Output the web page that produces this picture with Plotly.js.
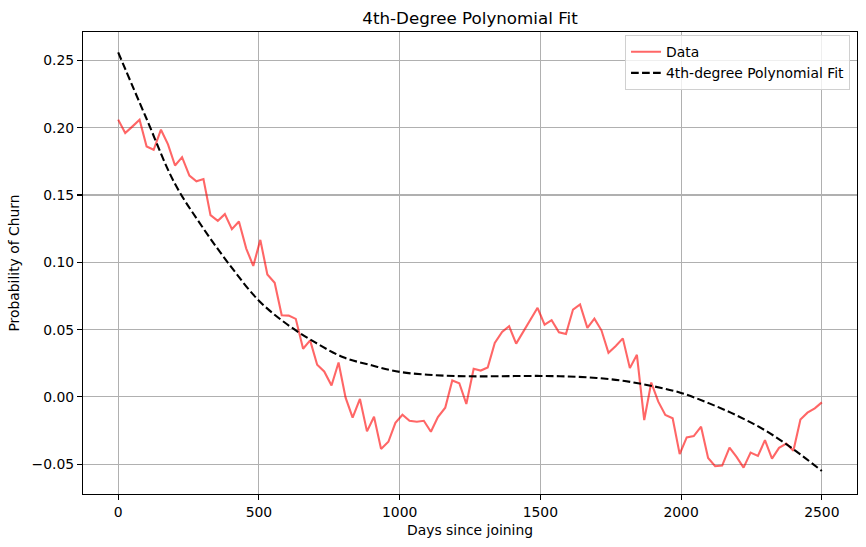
<!DOCTYPE html>
<html>
<head>
<meta charset="utf-8">
<script src="https://cdn.plot.ly/plotly-3.0.1.min.js"></script>
<style>
html,body{margin:0;padding:0;background:#fff;}
#chart{width:866px;height:547px;}
</style>
</head>
<body>
<div id="chart"></div>
<script>
// Days since joining (sample positions)
const days = [0,25,51,76,101,126,152,177,202,227,253,278,303,328,354,379,404,429,455,480,
505,530,556,581,606,631,657,682,707,732,758,783,808,833,859,884,909,934,960,985,
1010,1035,1061,1086,1111,1136,1162,1187,1212,1237,1263,1288,1313,1338,1364,1389,1414,1439,1465,1490,
1515,1540,1566,1591,1616,1641,1667,1692,1717,1742,1768,1793,1818,1843,1869,1894,1919,1944,1970,1995,
2020,2045,2071,2096,2121,2146,2172,2197,2222,2247,2273,2298,2323,2348,2374,2399,2424,2449,2475,2500];

// Observed churn probability
const churn = [0.206,0.196,0.201,0.206,0.186,0.1836,0.1985,0.1876,0.1719,0.1781,
0.1644,0.1602,0.1619,0.1351,0.1308,0.1358,0.1246,0.1303,0.1102,0.0973,
0.1167,0.091,0.0848,0.0607,0.0604,0.058,0.0358,0.042,0.0239,0.0189,
0.0085,0.0256,-0.0005,-0.0154,-0.0015,-0.0256,-0.0147,-0.0386,-0.0333,-0.0192,
-0.0132,-0.0177,-0.0184,-0.0177,-0.0259,-0.015,-0.008,0.0122,0.0102,-0.0052,
0.0209,0.0196,0.0219,0.0401,0.0483,0.0525,0.0396,0.0487,0.0575,0.0662,
0.0537,0.057,0.048,0.0468,0.0649,0.0687,0.0513,0.0582,0.0495,0.0328,
0.0378,0.0435,0.0214,0.0313,-0.0172,0.0107,-0.0035,-0.0134,-0.0159,-0.0425,
-0.0301,-0.0291,-0.0221,-0.0453,-0.0515,-0.051,-0.0376,-0.0445,-0.0525,-0.0413,
-0.0438,-0.0321,-0.0458,-0.0378,-0.0346,-0.04,-0.0167,-0.0117,-0.0085,-0.004];

// Fitted curve
const fitDays = [0,100,200,300,400,500,600,700,800,900,1000,1100,1200,1300,1400,1500,1600,1700,1800,1900,2000,2100,2200,2300,2400,2500];
const fitVals = [0.256,0.207,0.159,0.126,0.097,0.0715,0.054,0.0405,0.0295,0.0235,0.0186,0.0165,0.0155,0.0153,0.0155,0.0156,0.0152,0.0141,0.0118,0.008,0.003,-0.0048,-0.014,-0.025,-0.039,-0.055];

const xTicks = [0,500,1000,1500,2000,2500];
const yTicks = [-0.05,0,0.05,0.10,0.15,0.20,0.25];

const FONT = 'DejaVu Sans, sans-serif';

const traces = [
  {x: days, y: churn, type: 'scatter', mode: 'lines', name: 'Data',
   line: {color: 'rgba(255,0,0,0.6)', width: 2.1}},
  {x: fitDays, y: fitVals, type: 'scatter', mode: 'lines', name: '4th-degree Polynomial Fit',
   line: {color: '#000000', width: 2.1, dash: '7.7px,3.3px', shape: 'spline', smoothing: 1}}
];

const axisCommon = {
  showline: true, linecolor: '#000', linewidth: 1.1, mirror: true,
  ticks: 'outside', ticklen: 5, tickwidth: 1.1, tickcolor: '#000',
  showgrid: true, gridcolor: '#b0b0b0', gridwidth: 1.1,
  zeroline: false,
  tickfont: {family: FONT, size: 13.9, color: '#000'}
};

const layout = {
  width: 866, height: 547,
  margin: {l: 83, r: 9, t: 32, b: 53},
  paper_bgcolor: '#fff', plot_bgcolor: '#fff',
  font: {family: FONT, color: '#000'},
  title: {text: '4th-Degree Polynomial Fit', font: {family: FONT, size: 16.7, color: '#000'},
          x: 0.5, xref: 'paper', y: 1 - 18/547, yref: 'container', yanchor: 'middle'},
  xaxis: Object.assign({}, axisCommon, {
    range: [-125, 2625], tickmode: 'array', tickvals: xTicks, ticktext: xTicks.map(String),
    title: {text: 'Days since joining', font: {family: FONT, size: 13.9, color: '#000'}, standoff: 6}
  }),
  yaxis: Object.assign({}, axisCommon, {
    range: [-0.0721, 0.2711], tickmode: 'array', tickvals: yTicks, tickformat: '.2f',
    title: {text: 'Probability of Churn', font: {family: FONT, size: 13.9, color: '#000'}, standoff: 8}
  }),
  showlegend: true,
  legend: {x: 0.991, y: 0.993, xanchor: 'right', yanchor: 'top',
    bgcolor: 'rgba(255,255,255,0.8)', bordercolor: '#d0d0d0', borderwidth: 1,
    font: {family: FONT, size: 13.9, color: '#000'}, itemwidth: 30, tracegroupgap: 0}
};

Plotly.newPlot('chart', traces, layout, {displayModeBar: false, staticPlot: true});
</script>
</body>
</html>
